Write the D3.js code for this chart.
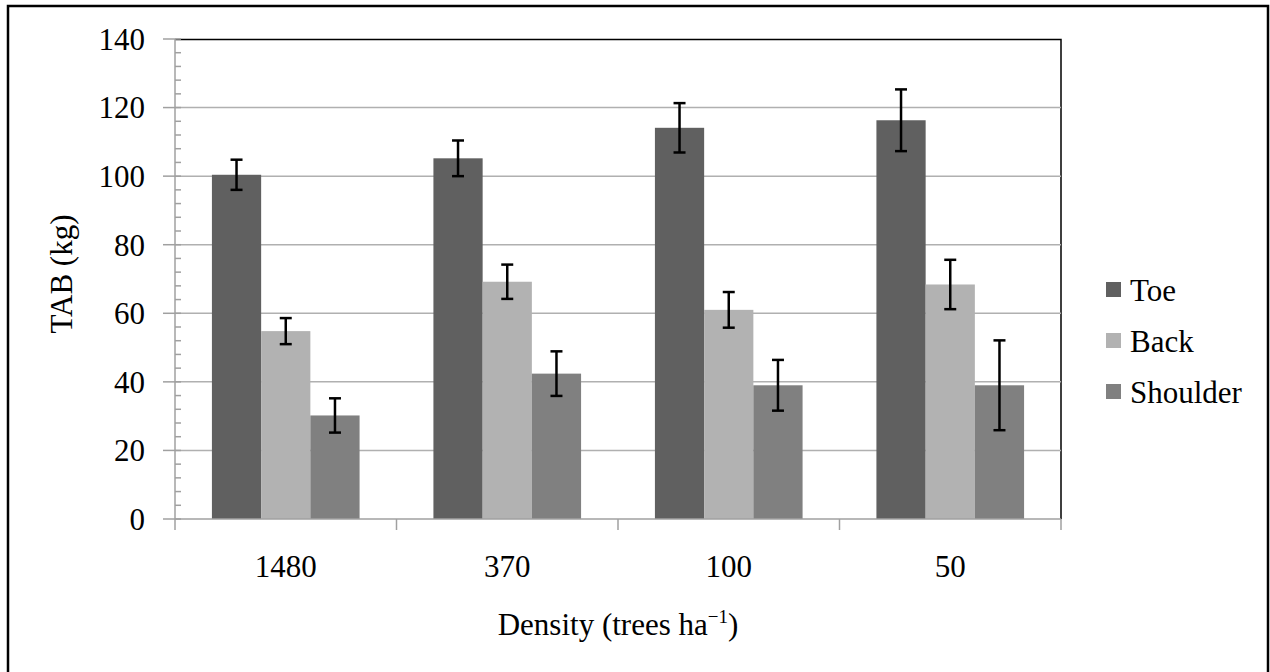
<!DOCTYPE html>
<html>
<head>
<meta charset="utf-8">
<script src="https://cdn.jsdelivr.net/npm/d3@7"></script>
<style>
  body { margin: 0; background: #fff; }
</style>
</head>
<body>
<svg id="chart" width="1270" height="672" style="font-family: 'Times New Roman', 'Liberation Serif', Tinos, FreeSerif, monospace"></svg>
<script>
const categories = ['1480', '370', '100', '50'];
const series = ['Toe', 'Back', 'Shoulder'];
const toeValues = [100.4, 105.2, 114.1, 116.3];
const toeErrors = [4.4, 5.2, 7.2, 9.0];
const backValues = [54.8, 69.2, 61.0, 68.4];
const backErrors = [3.8, 5.0, 5.2, 7.2];
const shoulderValues = [30.2, 42.4, 39.0, 39.0];
const shoulderErrors = [5.0, 6.5, 7.4, 13.1];
const yTicks = [0, 20, 40, 60, 80, 100, 120, 140];
const colors = ['#606060', '#b2b2b2', '#808080'];

const values = [toeValues, backValues, shoulderValues];
const errors = [toeErrors, backErrors, shoulderErrors];
const FONT = "'Times New Roman', 'Liberation Serif', Tinos, FreeSerif, monospace";

const svg = d3.select('#chart');
const margin = { left: 175, right: 209, top: 39, bottom: 153 };
const width = 1270 - margin.left - margin.right;
const height = 672 - margin.top - margin.bottom;

// outer frame
svg.append('rect')
  .attr('x', 8).attr('y', 6)
  .attr('width', 1260).attr('height', 700)
  .attr('fill', 'none')
  .attr('stroke', '#000')
  .attr('stroke-width', 2.5);

const g = svg.append('g')
  .attr('transform', `translate(${margin.left},${margin.top})`);

const x0 = d3.scaleBand().domain(categories).range([0, width]).paddingInner(0).paddingOuter(0);
const y = d3.scaleLinear().domain([0, 140]).range([height, 0]);
const bw = x0.bandwidth() / 4.5;
const x1 = d3.scaleBand().domain(series).range([bw * 0.75, bw * 3.75]);

// plot area border (top and right)
g.append('path')
  .attr('d', `M0,0.5H${width}V${height}`)
  .attr('fill', 'none')
  .attr('stroke', '#000')
  .attr('stroke-width', 1.5);

// gridlines
g.append('g')
  .selectAll('line')
  .data(yTicks.filter(t => t > 0 && t < 140))
  .enter()
  .append('line')
  .attr('x1', 0).attr('x2', width)
  .attr('y1', d => y(d)).attr('y2', d => y(d))
  .attr('stroke', '#b0b0b0')
  .attr('stroke-width', 1.5);

// bars
series.forEach((s, si) => {
  g.append('g')
    .selectAll('rect')
    .data(categories)
    .enter()
    .append('rect')
    .attr('x', d => x0(d) + x1(s))
    .attr('y', (d, i) => y(values[si][i]))
    .attr('width', x1.bandwidth())
    .attr('height', (d, i) => height - y(values[si][i]))
    .attr('fill', colors[si]);
});

// error bars
series.forEach((s, si) => {
  const eg = g.append('g');
  categories.forEach((c, i) => {
    const cx = x0(c) + x1(s) + x1.bandwidth() / 2;
    const hi = y(values[si][i] + errors[si][i]);
    const lo = y(values[si][i] - errors[si][i]);
    eg.append('line').attr('x1', cx).attr('x2', cx).attr('y1', hi).attr('y2', lo)
      .attr('stroke', '#000').attr('stroke-width', 2.5);
    [hi, lo].forEach(yy => {
      eg.append('line').attr('x1', cx - 6).attr('x2', cx + 6).attr('y1', yy).attr('y2', yy)
        .attr('stroke', '#000').attr('stroke-width', 2.5);
    });
  });
});

// y axis
const yAxis = g.append('g');
yAxis.append('line')
  .attr('x1', 0).attr('x2', 0).attr('y1', 0).attr('y2', height)
  .attr('stroke', '#a0a0a0').attr('stroke-width', 1.5);
yAxis.selectAll('line.minor')
  .data(d3.range(0, 141, 4).filter(v => v % 20 !== 0))
  .enter()
  .append('line')
  .attr('class', 'minor')
  .attr('x1', 0).attr('x2', 6)
  .attr('y1', d => y(d)).attr('y2', d => y(d))
  .attr('stroke', '#a0a0a0').attr('stroke-width', 1.5);
yAxis.selectAll('line.major')
  .data(yTicks)
  .enter()
  .append('line')
  .attr('class', 'major')
  .attr('x1', -12).attr('x2', 6)
  .attr('y1', d => y(d)).attr('y2', d => y(d))
  .attr('stroke', '#a0a0a0').attr('stroke-width', 1.5);
yAxis.selectAll('text')
  .data(yTicks)
  .enter()
  .append('text')
  .style('font-family', FONT)
  .style('font-size', '31px')
  .attr('x', -30)
  .attr('y', d => y(d))
  .attr('dy', '0.35em')
  .attr('text-anchor', 'end')
  .text(d => d);

// x axis
const xAxis = g.append('g').attr('transform', `translate(0,${height})`);
xAxis.append('line')
  .attr('x1', 0).attr('x2', width)
  .attr('stroke', '#a0a0a0').attr('stroke-width', 1.5);
xAxis.selectAll('line.tick')
  .data(categories.map(c => x0(c)).concat([width]))
  .enter()
  .append('line')
  .attr('class', 'tick')
  .attr('x1', d => d).attr('x2', d => d)
  .attr('y1', 0).attr('y2', 11)
  .attr('stroke', '#a0a0a0').attr('stroke-width', 1.5);
xAxis.selectAll('text')
  .data(categories)
  .enter()
  .append('text')
  .style('font-family', FONT)
  .style('font-size', '31px')
  .attr('x', d => x0(d) + x0.bandwidth() / 2)
  .attr('y', 58)
  .attr('text-anchor', 'middle')
  .text(d => d);

// axis titles
const xt = svg.append('text')
  .style('font-family', FONT)
  .style('font-size', '31px')
  .attr('x', margin.left + width / 2)
  .attr('y', 635)
  .attr('text-anchor', 'middle');
xt.append('tspan').text('Density (trees ha');
xt.append('tspan').style('font-size', '19px').attr('dy', -12).text('\u22121');
xt.append('tspan').attr('dy', 12).text(')');

svg.append('text')
  .style('font-family', FONT)
  .style('font-size', '31px')
  .attr('transform', 'translate(72,274) rotate(-90)')
  .attr('text-anchor', 'middle')
  .text('TAB (kg)');

// legend
const legend = svg.append('g').attr('transform', 'translate(1106,290)');
series.forEach((s, i) => {
  const row = legend.append('g').attr('transform', `translate(0,${i * 51})`);
  row.append('rect')
    .attr('x', 0).attr('y', -8)
    .attr('width', 15).attr('height', 15)
    .attr('fill', colors[i]);
  row.append('text')
    .style('font-family', FONT)
    .style('font-size', '31px')
    .attr('x', 24).attr('y', 0)
    .attr('dy', '0.35em')
    .text(s);
});
</script>
</body>
</html>
